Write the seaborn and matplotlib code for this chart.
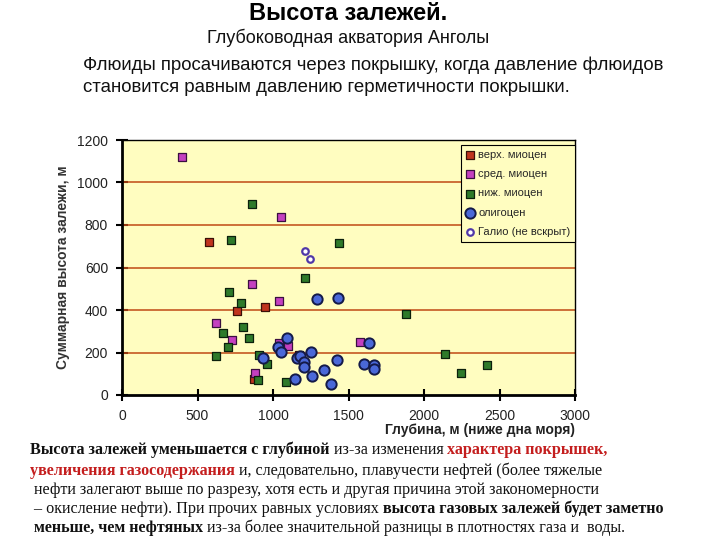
import matplotlib
matplotlib.use("Agg")
import matplotlib.pyplot as plt
import seaborn as sns
import pandas as pd
import numpy as np
from matplotlib import font_manager
from matplotlib.ticker import MultipleLocator

# ---------------- data ----------------
upper_x = [578, 760, 948, 871, 1172]
upper_y = [722, 397, 415, 74, 188]

middle_x = [398, 1054, 862, 1043, 623, 729, 882, 1043, 1100, 1578]
middle_y = [1121, 839, 522, 444, 340, 259, 105, 243, 232, 251]

lower_x = [862, 725, 1436, 1215, 711, 791, 667, 804, 840, 703, 623, 910, 961, 899, 1087, 1879, 2142, 2243, 2414]
lower_y = [897, 729, 717, 549, 486, 434, 290, 321, 270, 224, 184, 188, 144, 71, 63, 381, 193, 105, 140]

olig_x = [1290, 1430, 1635, 1091, 1030, 1054, 933, 1158, 1176, 1204, 1206, 1249, 1255, 1147, 1341, 1386, 1425, 1600, 1667, 1670]
olig_y = [454, 458, 243, 269, 224, 204, 176, 172, 185, 153, 134, 204, 89, 77, 119, 54, 163, 148, 143, 124]

galio_x = [1213, 1247]
galio_y = [679, 638]

series_names = ["верх. миоцен", "сред. миоцен", "ниж. миоцен", "олигоцен", "Галио (не вскрыт)"]
x_ticks = [0, 500, 1000, 1500, 2000, 2500, 3000]
y_ticks = [0, 200, 400, 600, 800, 1000, 1200]

title = "Высота залежей."
subtitle = "Глубоководная акватория Анголы"
para1 = "Флюиды просачиваются через покрышку, когда давление флюидов"
para2 = "становится равным давлению герметичности покрышки."
xlabel = "Глубина, м (ниже дна моря)"
ylabel = "Суммарная высота залежи, м"

bottom_lines = [
    [("Высота залежей уменьшается с глубиной", True, False),
     (" из-за изменения ", False, False),
     ("характера покрышек,", True, True)],
    [("увеличения газосодержания", True, True),
     (" и, следовательно, плавучести нефтей (более тяжелые", False, False)],
    [(" нефти залегают выше по разрезу, хотя есть и другая причина этой закономерности", False, False)],
    [(" – окисление нефти). При прочих равных условиях ", False, False),
     ("высота газовых залежей будет заметно", True, False)],
    [(" меньше, чем нефтяных", True, False),
     (" из-за более значительной разницы в плотностях газа и  воды.", False, False)],
]

# ---------------- frame ----------------
frames = []
for name, xs, ys in zip(series_names,
                        [upper_x, middle_x, lower_x, olig_x, galio_x],
                        [upper_y, middle_y, lower_y, olig_y, galio_y]):
    frames.append(pd.DataFrame({"depth": xs, "height": ys, "series": name}))
df = pd.concat(frames, ignore_index=True)

sns.set_theme(style="white")
plt.rcParams['font.family'] = ['Liberation Sans', 'DejaVu Sans']

fig = plt.figure(figsize=(7.2, 5.4), dpi=100)
ax = fig.add_axes([122 / 720, 1 - 395 / 540, (575 - 122) / 720, (395 - 140) / 540])
ax.set_facecolor("#FFFDC0")

styles = {
    "верх. миоцен": dict(marker="s", color="#C0341E", edgecolor="#3a1008", s=30, linewidth=0.9),
    "сред. миоцен": dict(marker="s", color="#C440C0", edgecolor="#3a1040", s=30, linewidth=0.9),
    "ниж. миоцен": dict(marker="s", color="#2E7A2A", edgecolor="#0c200c", s=30, linewidth=0.9),
    "олигоцен": dict(marker="o", color="#4A68D8", edgecolor="#141a48", s=55, linewidth=1.4),
    "Галио (не вскрыт)": dict(marker="o", color="white", edgecolor="#5038A8", s=22, linewidth=1.6),
}

for gy in [200, 400, 600, 800, 1000]:
    ax.axhline(gy, color="#C04A14", lw=1.1, zorder=1)

for name in series_names:
    sub = df[df["series"] == name]
    st = styles[name]
    sns.scatterplot(data=sub, x="depth", y="height", ax=ax, marker=st["marker"],
                    color=st["color"], edgecolor=st["edgecolor"], s=st["s"],
                    linewidth=st["linewidth"], label=name, zorder=3)

ax.set_xlim(0, 3000)
ax.set_ylim(0, 1200)
ax.set_xticks(x_ticks)
ax.set_yticks(y_ticks)
ax.xaxis.set_minor_locator(MultipleLocator(100))
ax.yaxis.set_minor_locator(MultipleLocator(50))
ax.tick_params(axis="both", which="major", direction="inout", length=8, width=1.5,
               labelsize=10, colors="black", labelcolor="#222222")
ax.tick_params(axis="both", which="minor", direction="in", length=4, width=1.0, colors="black")
ax.tick_params(axis="x", which="major", pad=6, bottom=True)
ax.tick_params(axis="y", which="major", pad=6, left=True)
for sp in ax.spines.values():
    sp.set_visible(True)
    sp.set_color("black")
    sp.set_linewidth(1.0)
ax.spines["left"].set_linewidth(2.0)
ax.spines["bottom"].set_linewidth(2.0)
ax.set_xlabel("")
ax.set_ylabel(ylabel, fontsize=10, fontweight="bold", color="#333333", labelpad=5)

leg = ax.legend(loc="upper right", bbox_to_anchor=(1.0, 0.98), fontsize=8, frameon=True,
                fancybox=False, edgecolor="black", facecolor="#FFFDC0", framealpha=1,
                handletextpad=0.3, borderpad=0.4, labelspacing=0.85, handlelength=0.9,
                borderaxespad=0.0)
leg.get_frame().set_linewidth(0.8)

fig.text(575 / 720, 1 - 430 / 540, xlabel, ha="right", va="center", fontsize=10,
         fontweight="bold", color="#222222")

# ---------------- header texts ----------------
fig.text(348 / 720, 1 - 13 / 540, title, ha="center", va="center", fontsize=17, fontweight="bold", color="black")
fig.text(348 / 720, 1 - 38 / 540, subtitle, ha="center", va="center", fontsize=13, color="#111111")

psize = 13.4
pfam = ['Liberation Sans', 'DejaVu Sans']
fig.text(83 / 720, 1 - 65 / 540, para1, ha="left", va="center", fontsize=psize, family=pfam, color="#111111")
fig.text(83 / 720, 1 - 88 / 540, para2, ha="left", va="center", fontsize=psize, family=pfam, color="#111111")

# ---------------- bottom rich text ----------------
fig.canvas.draw()
renderer = fig.canvas.get_renderer()
serif = ['Liberation Serif', 'DejaVu Serif']


def text_width(s, size, bold):
    t1 = fig.text(0, 0, "|" + s + "|", fontsize=size, family=serif, fontweight="bold" if bold else "normal")
    t2 = fig.text(0, 0, "||", fontsize=size, family=serif, fontweight="bold" if bold else "normal")
    w = t1.get_window_extent(renderer).width - t2.get_window_extent(renderer).width
    t1.remove()
    t2.remove()
    return w

bsize = 11.6
line_y = [450, 471, 490, 509, 528]
line_x0 = [30, 30, 30, 30, 30]
for parts, yy, x0 in zip(bottom_lines, line_y, line_x0):
    cur = x0
    for s, bold, red in parts:
        fig.text(cur / 720, 1 - yy / 540, s, ha="left", va="center", fontsize=bsize, family=serif,
                 fontweight="bold" if bold else "normal", color="#C41E1E" if red else "#111111")
        cur += text_width(s, bsize, bold)

fig.savefig("out.png", dpi=100)
